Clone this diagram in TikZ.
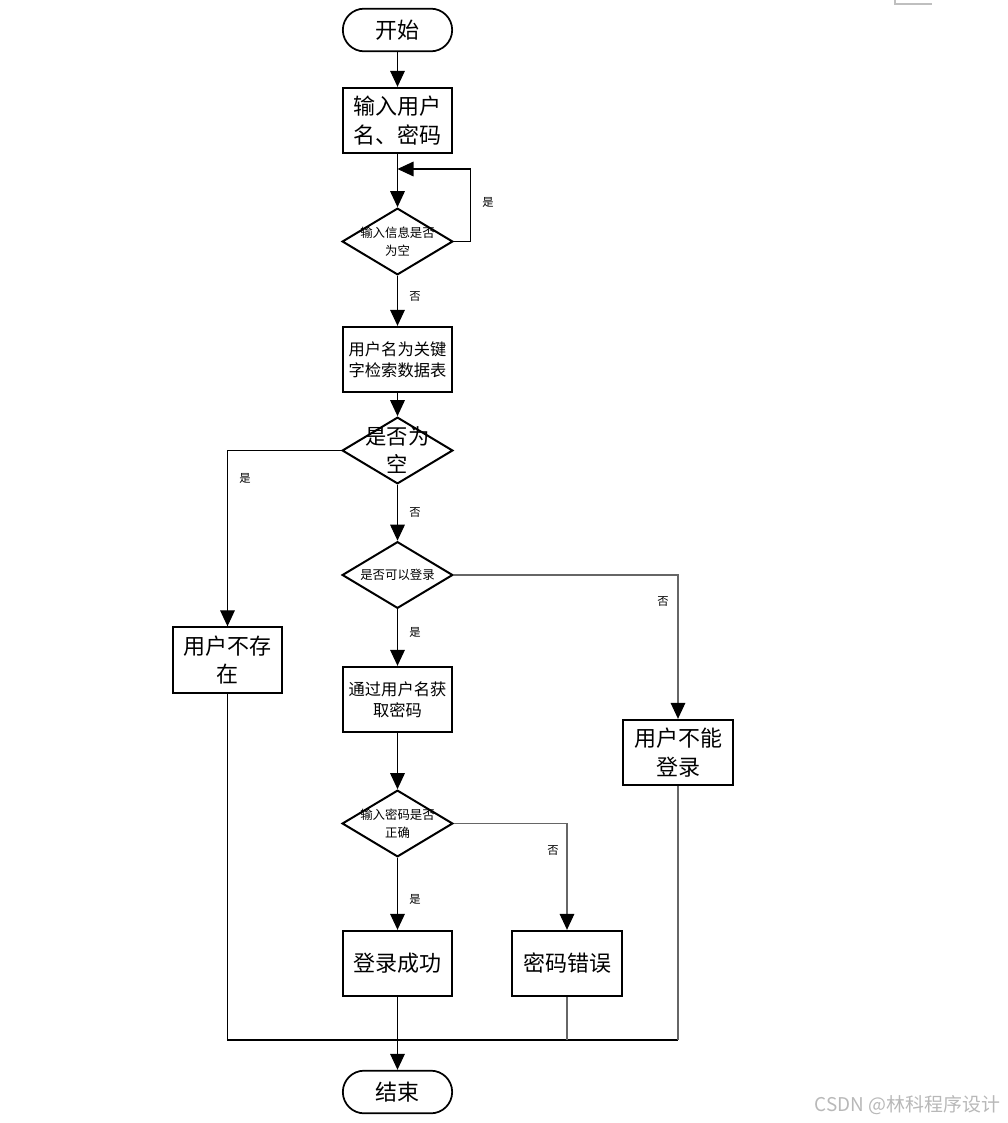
\documentclass[tikz,border=0pt]{standalone}
\usepackage{fontspec}
\newfontfamily\cjk{Noto Sans CJK SC}
\usetikzlibrary{arrows.meta,shapes.geometric}
\begin{document}
\begin{tikzpicture}[x=0.75pt,y=-0.75pt,
  bigfont/.style={font=\cjk\fontsize{16.5}{21.5}\selectfont},
  midfont/.style={font=\cjk\fontsize{12.2}{15.8}\selectfont},
  smallfont/.style={font=\cjk\fontsize{9.3}{13.5}\selectfont},
  box/.style={draw,line width=1.5pt,minimum width=82pt,minimum height=49pt,inner sep=0pt,align=center},
  term/.style={draw,line width=1.3pt,rounded corners=16pt,minimum width=82pt,minimum height=32pt,inner sep=0pt,bigfont},
  dia/.style={draw,diamond,line width=1.5pt,minimum width=83pt,minimum height=50pt,inner sep=0pt},
  lbl/.style={font=\cjk\fontsize{8.5}{10}\selectfont,inner sep=0pt},
  conn/.style={line width=0.8pt,black},
  gconn/.style={line width=0.8pt,black!60},
  arr/.style={-{Triangle[length=12pt,width=11pt,black]}},
]
\useasboundingbox (0,0) rectangle (1007,1123);

% nodes
\node[term] (start) at (397.5,30) {开始};
\node[box,bigfont] (input) at (397.5,120.5) {输入用户\\名、密码};
\node[dia,label={[smallfont,align=center]center:输入信息是否\\为空}] (d1) at (397.5,241.5) {};
\node[box,midfont] (query) at (397.5,359.5) {用户名为关键\\字检索数据表};
\node[dia,label={[font=\cjk\fontsize{16}{21}\selectfont,align=center]center:是否为\\空}] (d2) at (397.5,450.5) {};
\node[dia,label={[smallfont,align=center]center:是否可以登录}] (d3) at (397.5,575) {};
\node[box,bigfont] (nouser) at (227.5,660) {用户不存\\在};
\node[box,midfont] (getpw) at (397.5,699.5) {通过用户名获\\取密码};
\node[box,bigfont] (cant) at (678,752.5) {用户不能\\登录};
\node[dia,label={[smallfont,align=center]center:输入密码是否\\正确}] (d4) at (397.5,823.5) {};
\node[box,bigfont] (ok) at (397.5,963.5) {登录成功};
\node[box,bigfont] (wrong) at (567,963.5) {密码错误};
\node[term] (end) at (397.5,1092) {结束};

\coordinate (loop) at (397.5,169);
\coordinate (mL) at (227.5,1040);
\coordinate (mR) at (678,1040);

% connectors
\draw[conn,arr] (start) -- (input);
\draw[conn,arr] (input) -- (d1);
\draw[conn,arr] (d1.east) -- ++(17,0) |- (loop);
\draw[conn,arr] (d1) -- (query);
\draw[conn,arr] (query) -- (d2);
\draw[conn,arr] (d2.west) -| (nouser.north);
\draw[conn,arr] (d2) -- (d3);
\draw[gconn,arr] (d3.east) -| (cant.north);
\draw[conn,arr] (d3) -- (getpw);
\draw[conn,arr] (getpw) -- (d4);
\draw[conn,arr] (d4) -- (ok);
\draw[gconn,arr] (d4.east) -| (wrong.north);
\draw[conn,arr] (ok) -- (end);
\draw[conn] (nouser.south) -- (mL) -- (mR);
\draw[gconn] (mR) -- (cant.south);
\draw[gconn] (wrong.south) -- (wrong.south |- mL);

% labels
\node[lbl] (l1) at (488,202) {是};
\node[lbl] (l2) at (415,297) {否};
\node[lbl] (l3) at (245,478) {是};
\node[lbl] (l4) at (415,513) {否};
\node[lbl] (l5) at (663,602) {否};
\node[lbl] (l6) at (415,632) {是};
\node[lbl] (l7) at (553,851) {否};
\node[lbl] (l8) at (415,899) {是};

% watermark and corner mark
\node[font=\cjk\fontsize{14.2}{14.2}\selectfont,text=black!28,inner sep=0pt] (wm) at (907.5,1105) {CSDN @林科程序设计};
\draw[black!25,line width=0.8pt] (895,0) -- (895,4) -- (932,4);
\end{tikzpicture}
\end{document}
